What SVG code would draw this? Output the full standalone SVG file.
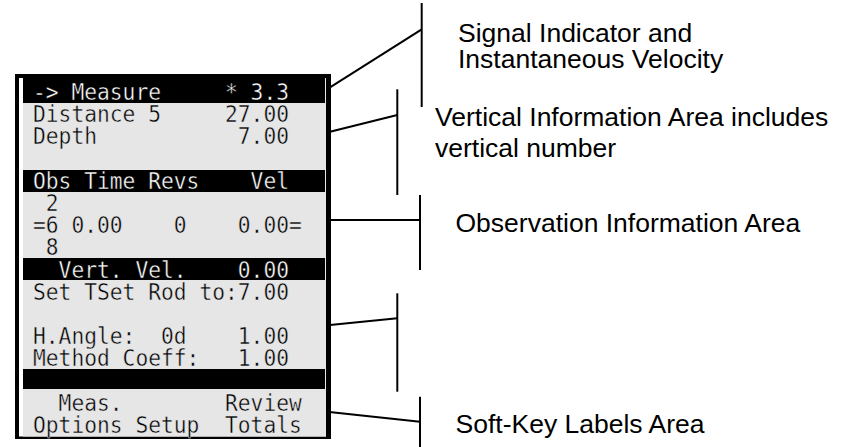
<svg xmlns="http://www.w3.org/2000/svg" width="847" height="447" viewBox="0 0 847 447">
<style>
.lcd{font-family:"DejaVu Sans Mono","Liberation Mono",monospace;font-size:23.5px;fill:#000;stroke:#e6e6e6;stroke-width:0.45px}
.inv{fill:#fff;stroke:#000}
.bar{fill:#000}
.lbl{font-family:"Liberation Sans",Arial,sans-serif;font-size:26.5px;fill:#000}
.ln{stroke:#000;stroke-width:2;fill:none}
</style>
<rect width="847" height="447" fill="#fff"/>
<g id="screen">
<rect x="15" y="74" width="316" height="365" fill="#000"/>
<rect x="19" y="78" width="307" height="358.5" fill="#fff"/>
<rect x="23" y="78" width="303" height="358.5" fill="#e6e6e6"/>
<rect class="bar" x="23" y="78" width="302" height="25"/>
<rect class="bar" x="23" y="170" width="302" height="22"/>
<rect class="bar" x="23" y="258" width="302" height="22"/>
<rect class="bar" x="23" y="369" width="302" height="20"/>
<text class="lcd inv" x="33" y="100" textLength="256" lengthAdjust="spacingAndGlyphs" xml:space="preserve">-&gt; Measure     * 3.3</text>
<text class="lcd" x="33" y="122.2" textLength="256" lengthAdjust="spacingAndGlyphs" xml:space="preserve">Distance 5     27.00</text>
<text class="lcd" x="33" y="144.4" textLength="256" lengthAdjust="spacingAndGlyphs" xml:space="preserve">Depth           7.00</text>
<text class="lcd inv" x="33" y="188.8" textLength="256" lengthAdjust="spacingAndGlyphs" xml:space="preserve">Obs Time Revs    Vel</text>
<text class="lcd" x="33" y="211" textLength="25.6" lengthAdjust="spacingAndGlyphs" xml:space="preserve"> 2</text>
<text class="lcd" x="33" y="233.2" textLength="268.8" lengthAdjust="spacingAndGlyphs" xml:space="preserve">=6 0.00    0    0.00=</text>
<text class="lcd" x="33" y="255.4" textLength="25.6" lengthAdjust="spacingAndGlyphs" xml:space="preserve"> 8</text>
<text class="lcd inv" x="33" y="277.6" textLength="256" lengthAdjust="spacingAndGlyphs" xml:space="preserve">  Vert. Vel.    0.00</text>
<text class="lcd" x="33" y="299.8" textLength="256" lengthAdjust="spacingAndGlyphs" xml:space="preserve">Set TSet Rod to:7.00</text>
<text class="lcd" x="33" y="344.2" textLength="256" lengthAdjust="spacingAndGlyphs" xml:space="preserve">H.Angle:  0d    1.00</text>
<text class="lcd" x="33" y="366.4" textLength="256" lengthAdjust="spacingAndGlyphs" xml:space="preserve">Method Coeff:   1.00</text>
<text class="lcd" x="33" y="410.8" textLength="268.8" lengthAdjust="spacingAndGlyphs" xml:space="preserve">  Meas.        Review</text>
<text class="lcd" x="33" y="433" textLength="268.8" lengthAdjust="spacingAndGlyphs" xml:space="preserve">Options Setup  Totals</text>
</g>
<g id="connectors">
<line class="ln" x1="421.7" y1="3" x2="421.7" y2="107"/>
<line class="ln" x1="330" y1="87.3" x2="421.7" y2="29.3"/>
<line class="ln" x1="397.3" y1="89.3" x2="397.3" y2="195"/>
<line class="ln" x1="330" y1="131.7" x2="397.3" y2="115"/>
<line class="ln" x1="420" y1="195" x2="420" y2="270"/>
<line class="ln" x1="330" y1="220" x2="420" y2="220"/>
<line class="ln" x1="397.3" y1="293.3" x2="397.3" y2="391.7"/>
<line class="ln" x1="330" y1="325" x2="397.3" y2="318.3"/>
<line class="ln" x1="420" y1="396.7" x2="420" y2="447"/>
<line class="ln" x1="327" y1="411.7" x2="420" y2="421.7"/>
</g>
<g id="label-signal">
<text class="lbl" x="458" y="41.7">Signal Indicator and</text>
<text class="lbl" x="458" y="68.3">Instantaneous Velocity</text>
</g>
<g id="label-vertical">
<text class="lbl" x="435" y="126">Vertical Information Area includes</text>
<text class="lbl" x="435" y="156.7">vertical number</text>
</g>
<g id="label-observation">
<text class="lbl" x="455.5" y="231.7">Observation Information Area</text>
</g>
<g id="label-softkey">
<text class="lbl" x="455.5" y="433.3">Soft-Key Labels Area</text>
</g>
</svg>
